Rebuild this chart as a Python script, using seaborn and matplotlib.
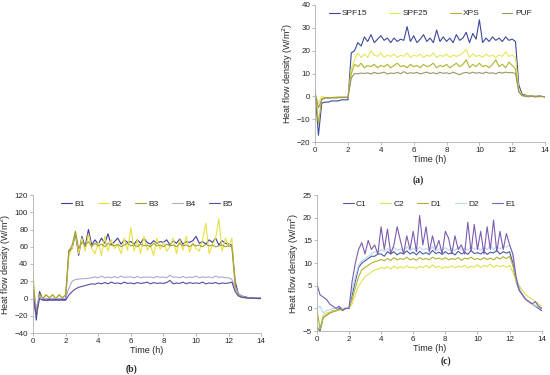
import numpy as np
import pandas as pd
import seaborn as sns
import matplotlib.pyplot as plt

# time axis, 0.2 h step (0 .. 14 h)
time_h = np.round(np.arange(71) * 0.2, 1)

# ---- panel (a) ----
spf15 = [2, -17, -3, -2.5, -2.5, -2, -2, -2, -1.5, -1.5,
         -1.5, 19, 20, 23.5, 22, 26, 24, 27, 23.5, 25,
         26.5, 24.5, 25.5, 23.5, 25.5, 24, 25, 24.5, 30.5, 24,
         26.5, 23.5, 25, 27, 24, 25.5, 23.5, 29, 24, 26,
         24, 25.5, 23.5, 27, 24.5, 25.5, 28, 23.5, 27.5, 25,
         33.5, 23.5, 25.5, 24, 26, 24.5, 25.5, 24, 26, 24.5,
         25, 24, 5, 1, 0.5, 0.3, 0.2, 0, 0.2, 0, -0.2]
spf25 = [1, -3, 0, -0.5, -0.5, -0.5, -0.3, -0.3, -0.5, -0.3,
         -0.5, 12, 16, 19, 17, 18.5, 17, 20, 18, 17.5,
         19, 17, 18, 17.5, 18.5, 17, 18, 17.5, 19, 17,
         18, 17.5, 18.5, 17, 18, 17.5, 19, 17, 18, 17.5,
         18.5, 17, 18, 17.5, 18, 19, 20.5, 17, 18.5, 17.5,
         18, 17, 18.5, 17.5, 18, 17, 18, 17.5, 19.5, 17.5,
         18, 17, 3, 0.5, 0.3, 0.2, 0, 0.2, 0, -0.2, 0]
xps = [3, -12, -1, -0.5, -0.5, -0.5, -0.5, -0.3, -0.3, -0.3,
       -0.3, 10, 14, 13, 14.5, 12.5, 13.5, 13, 14, 12.5,
       13.5, 13, 14, 12.5, 13.5, 14.5, 13, 13.5, 12.5, 14,
       13, 13.5, 12.5, 14, 13, 13.5, 14.5, 12.5, 13.5, 13,
       14, 12.5, 13.5, 14.5, 13, 14, 16, 12.5, 14, 13,
       14.5, 13, 13.5, 12.5, 14, 16, 13, 14, 12.5, 15,
       13.5, 12, 2, 0.5, 0.3, 0.2, 0, 0, -0.2, 0, -0.3]
puf = [1, -5, -1.5, -0.8, -0.8, -0.7, -0.7, -0.6, -0.5, -0.5,
       -0.5, 8, 10, 9.8, 10.2, 10, 10.3, 9.8, 10.5, 10,
       10.2, 10.6, 9.8, 10.2, 10, 10.5, 9.9, 10.8, 10, 10.3,
       10.1, 10.5, 9.8, 10.2, 10.6, 10, 10.3, 9.9, 10.5, 10.1,
       10.3, 9.9, 10.6, 10, 9.5, 10.2, 10.5, 10, 10.6, 10.1,
       10.4, 10, 10.6, 10.1, 10.3, 9.9, 10.5, 10.2, 10.6, 10.3,
       10.4, 10, 2, 0.3, 0, -0.2, 0, -0.3, 0, 0, -0.2]

# ---- panel (b) ----
b1 = [10, -25, 8, -1, -2, -1, -2, -1, -2, -1,
      -1, 55, 58, 75, 50, 72, 60, 80, 62, 68,
      63, 70, 64, 75, 62, 66, 70, 63, 68, 65,
      66, 63, 68, 64, 70, 65, 63, 67, 64, 66,
      65, 68, 62, 67, 64, 69, 63, 66, 65, 67,
      72, 64, 66, 63, 68, 65, 70, 62, 67, 64,
      63, 62, 20, 5, 3, 2, 1, 1, 0.5, 0.5, 0.5]
b2 = [30, -20, 3, 0, 5, 0, 5, 0, 5, 0,
      5, 50, 58, 78, 52, 70, 55, 75, 58, 52,
      65, 50, 72, 55, 68, 58, 62, 52, 70, 56,
      82, 55, 68, 52, 72, 56, 62, 50, 70, 57,
      65, 55, 60, 70, 52, 68, 56, 72, 54, 64,
      58, 55, 68, 87, 52, 62, 70, 92, 55, 70,
      60, 70, 10, 3, 1, 0.5, 0.5, 0, 0.5, 0, 0]
b3 = [20, -15, 5, 0, 4, 1, 4, 0, 4, 1,
      4, 55, 62, 78, 58, 65, 62, 66, 60, 64,
      61, 63, 60, 64, 62, 61, 63, 60, 62, 64,
      61, 62, 60, 63, 61, 62, 60, 64, 61, 62,
      60, 63, 61, 62, 60, 64, 61, 62, 60, 63,
      61, 62, 60, 63, 61, 62, 60, 61, 62, 60,
      61, 60, 15, 5, 2, 1, 0.5, 0.5, 0, 0, 0]
b4 = [5, -10, 2, 0, 0, 0, 0, 0, 0, 0,
      0, 12, 20, 22, 22.5, 23, 23, 23.5, 24, 25,
      24, 26, 24, 25, 24, 25.5, 24, 26, 24.5, 25,
      25, 24, 25.5, 24, 25, 24.5, 25, 24, 25.5, 24.5,
      25, 24, 27, 24.5, 25, 24, 25.5, 24, 25, 24.5,
      26, 24, 25, 24.5, 25, 24, 26, 24.5, 25, 24,
      24, 22, 12, 6, 3, 1.5, 1, 0.5, 0.5, 0, 0]
b5 = [5, -20, 0, -2, -2, -2, -1.5, -2, -1.5, -2,
      -2, 4, 8, 11, 13, 14, 15, 16, 17, 16.5,
      18, 17, 18.5, 17, 19, 17.5, 18, 17, 19, 17.5,
      18, 17, 18.5, 17.5, 18, 19, 17, 18.5, 17.5, 18,
      17.5, 18.5, 21, 17, 18, 17.5, 19, 17, 18.5, 17.5,
      18, 17.5, 19, 17, 18, 17.5, 18.5, 17, 18, 17.5,
      18, 19, 8, 3, 1.5, 1, 0.5, 0.5, 0.3, 0, 0]

# ---- panel (c) ----
c1 = [-4, -5, -2, -1.5, -1, -0.5, -0.5, 0, -0.3, 0,
      0, 3, 6, 9, 10, 10.5, 11, 11.5, 11.5, 12,
      12, 11.5, 12.5, 12, 12.5, 11.8, 12.3, 12, 12.7, 12,
      12.4, 11.8, 12.6, 12, 12.3, 11.9, 12.8, 12.1, 12.4, 11.9,
      12.5, 12, 12.3, 11.8, 12.6, 12, 12.4, 11.9, 12.8, 12.1,
      12.3, 12, 12.6, 11.9, 12.4, 12.2, 12.8, 12, 12.5, 12.2,
      12.5, 10, 6, 4, 3, 2, 1.5, 1, 0.5, 0, -0.5]
c2 = [-4, -4.5, -1.5, -1, -0.8, -0.5, -0.5, -0.3, -0.2, 0,
      0, 1, 3, 5, 6, 7, 7.5, 8, 8.5, 8.7,
      9, 8.8, 9.2, 8.7, 9.3, 8.8, 9.2, 8.9, 9.4, 9,
      9.1, 8.8, 9.3, 9, 9.5, 8.9, 9.6, 9, 9.3, 8.8,
      9.2, 9, 9.4, 8.9, 9.3, 9.1, 9.5, 8.9, 9.3, 9.1,
      9.6, 9, 9.5, 9.2, 9.8, 9.1, 9.5, 9.2, 9.4, 9.1,
      9.5, 8, 6, 5, 4, 3, 2.5, 2, 1.5, 1, 0.5]
d1 = [0, -4.5, -2, -1.5, -1, -0.8, -0.5, -0.3, -0.2, 0,
      0, 2, 4.5, 7, 8.5, 9, 9.5, 10, 10.3, 10.5,
      10.8, 10.5, 11, 10.6, 11.2, 10.7, 11, 10.8, 11.3, 10.7,
      11, 10.6, 11.2, 10.8, 11, 10.7, 11.3, 10.9, 11.1, 10.8,
      11.2, 10.7, 11, 10.8, 11.2, 10.6, 11.1, 10.9, 11.3, 10.8,
      11, 10.7, 11.2, 10.8, 11.1, 10.7, 11.3, 10.9, 11.4, 11,
      11.5, 9.5, 6.5, 4.5, 3, 2, 1.5, 1, 0.5, 0.3, 0]
d2 = [0, 0.5, -1, -0.5, -0.3, 0, 0, 0.3, 0, 0.2,
      0.2, 4, 7, 9.5, 10.5, 11, 11.5, 12, 12.5, 12.3,
      13, 12.5, 13.2, 12.6, 13.5, 12.8, 13.1, 12.6, 13.6, 12.8,
      13.3, 12.7, 13.5, 12.9, 13.2, 12.8, 13.6, 12.7, 13.1, 12.9,
      13.4, 12.8, 13.2, 12.7, 13.5, 12.9, 13.3, 12.8, 13.6, 13,
      13.3, 12.8, 13.5, 13, 13.8, 13, 13.6, 13.1, 13.7, 13.5,
      14, 12, 7, 4.5, 3, 2, 1.5, 1, 0.7, 0.3, 0]
e1 = [5.5, 3, 2.5, 2, 1, 0.5, 0, 0.5, -0.5, 0,
      0, 6, 10, 13, 14.5, 12, 15, 13, 14, 12,
      18, 13, 17.5, 12, 14, 18, 15, 12, 16, 13,
      17, 12.5, 20.5, 14, 18, 12.5, 16, 13, 15, 12,
      17, 15.5, 12, 16, 13, 14, 12, 19, 12.5, 18.5,
      13, 17, 12, 18, 13, 19.5, 12.5, 17, 13, 16.5,
      14, 12, 7, 4, 3, 2, 1.5, 1, 1.5, 0.5, 0]

panels = [
    {'series': {'SPF15': spf15, 'SPF25': spf25, 'XPS': xps, 'PUF': puf},
     'colors': ['#3b4a9c', '#e6e65a', '#b3b22e', '#9a9466'],
     'ylim': (-20, 40), 'ystep': 10, 'tag': '(a)'},
    {'series': {'B1': b1, 'B2': b2, 'B3': b3, 'B4': b4, 'B5': b5},
     'colors': ['#3c3c9c', '#e8e040', '#a8a030', '#aaaad2', '#5a4ca0'],
     'ylim': (-40, 120), 'ystep': 20, 'tag': '(b)'},
    {'series': {'C1': c1, 'C2': c2, 'D1': d1, 'D2': d2, 'E1': e1},
     'colors': ['#4a5aa8', '#e0e050', '#b0b030', '#b8d8f0', '#7e5cb0'],
     'ylim': (-5, 25), 'ystep': 5, 'tag': '(c)'},
]

sns.set_style('ticks')
plt.rcParams['font.family'] = ['Liberation Sans', 'DejaVu Sans']

fig = plt.figure(figsize=(5.5, 3.75), dpi=100)
axes_pos = [[0.573, 0.621, 0.418, 0.366],
            [0.060, 0.112, 0.415, 0.368],
            [0.576, 0.117, 0.409, 0.363]]
tag_pos = [(0.76, 0.52), (0.24, 0.016), (0.81, 0.037)]

for p, pos, tpos in zip(panels, axes_pos, tag_pos):
    ax = fig.add_axes(pos)
    names = list(p['series'].keys())
    df = pd.DataFrame({'Time': np.tile(time_h, len(names)),
                       'Flux': np.concatenate([p['series'][n] for n in names]),
                       'Series': np.repeat(names, len(time_h))})
    sns.lineplot(data=df, x='Time', y='Flux', hue='Series',
                 palette=dict(zip(names, p['colors'])), lw=0.8, ax=ax)

    ax.set_xlim(0, 14)
    ax.set_ylim(*p['ylim'])
    ax.set_xticks(range(0, 15, 2))
    ax.set_yticks(np.arange(p['ylim'][0], p['ylim'][1] + 1, p['ystep']))
    ax.tick_params(labelsize=5.8, length=2, width=0.5, color='#a0a0a0', pad=1.5)
    ax.set_xlabel('Time (h)', fontsize=6.5, labelpad=0.5)
    ax.set_ylabel('Heat flow density (W/m$^2$)', fontsize=6.5, labelpad=1)
    sns.despine(ax=ax)
    for s in ['left', 'bottom']:
        ax.spines[s].set_color('#b0b0b0')
        ax.spines[s].set_linewidth(0.6)
    ax.legend(ncol=len(names), loc='upper center', bbox_to_anchor=(0.5, 1.02),
              frameon=False, fontsize=6, handlelength=1.3, handletextpad=0.3,
              columnspacing=2.6 if len(names) == 4 else 1.6)
    fig.text(tpos[0], tpos[1], p['tag'], fontsize=7, fontweight='bold',
             family='Liberation Serif', ha='center', va='center')

fig.savefig('out.png', dpi=100, facecolor='white')
